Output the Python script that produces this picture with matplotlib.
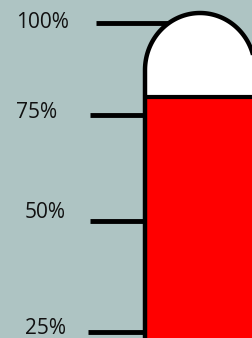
import numpy as np
import matplotlib.pyplot as plt
from matplotlib.patches import Polygon
from matplotlib.scale import FuncScale

# Dati: livelli della scala e valore raggiunto
levels = [25, 50, 75, 100]
labels = ['25%', '50%', '75%', '100%']
value = 80

# Posizione (pixel) dei livelli nell'immagine: la scala non e' lineare
anchor_pct = [0, 25, 50, 75, 100, 125]
anchor_px = [443, 332, 221, 115, 23, -69]

W, H = 253, 338
bg = '#aec4c3'


def fwd(p):
    return -np.interp(p, anchor_pct, anchor_px)


def inv(v):
    return np.interp(-np.asarray(v), anchor_px[::-1], anchor_pct[::-1])


fig = plt.figure(figsize=(W / 100, H / 100), dpi=100, facecolor=bg)
ax = fig.add_axes([0, 0, 1, 1])
ax.set_facecolor(bg)
ax.set_yscale(FuncScale(ax, (fwd, inv)))
ax.set_xlim(0, W)
ax.set_ylim(inv(-H), inv(0))
ax.axis('off')

# tubo (coordinate pixel -> transAxes)
wall_l, cx, rx, ry, y0 = 145, 200, 55, 57, 70
t = np.linspace(np.pi, 0, 100)
px = np.concatenate([[wall_l], cx + rx * np.cos(t), [cx + rx]])
py = np.concatenate([[H + 20], y0 - ry * np.sin(t), [H + 20]])
pts = np.column_stack([px / W, 1 - py / H])
ax.add_patch(Polygon(pts, closed=True, facecolor='white', edgecolor='none',
                     transform=ax.transAxes, zorder=2))

# riempimento rosso
ax.fill_between([wall_l, W + 10], inv(-H - 20), value, color='#ff0000', lw=0, zorder=3)
ax.hlines(value, wall_l, W + 10, color='black', lw=3, zorder=4)

ax.add_patch(Polygon(pts, closed=False, facecolor='none', edgecolor='black',
                     lw=3.2, transform=ax.transAxes, zorder=5))

# tacche e etichette
tick_x0 = [88, 90, 90, 96]
lab_x = [25, 25, 16, 16]
lab_dy = [-4, -9, -3, -1]
for lv, lb, x0, lx, dy in zip(levels, labels, tick_x0, lab_x, lab_dy):
    ax.hlines(lv, x0, cx, color='black', lw=3.5, zorder=1)
    yl = inv(fwd(lv) + (-dy))
    ax.text(lx, yl, lb, ha='left', va='center', fontsize=15,
            family='Open Sans', color='#111111', zorder=6)

fig.savefig('out.png', dpi=100, facecolor=bg)
